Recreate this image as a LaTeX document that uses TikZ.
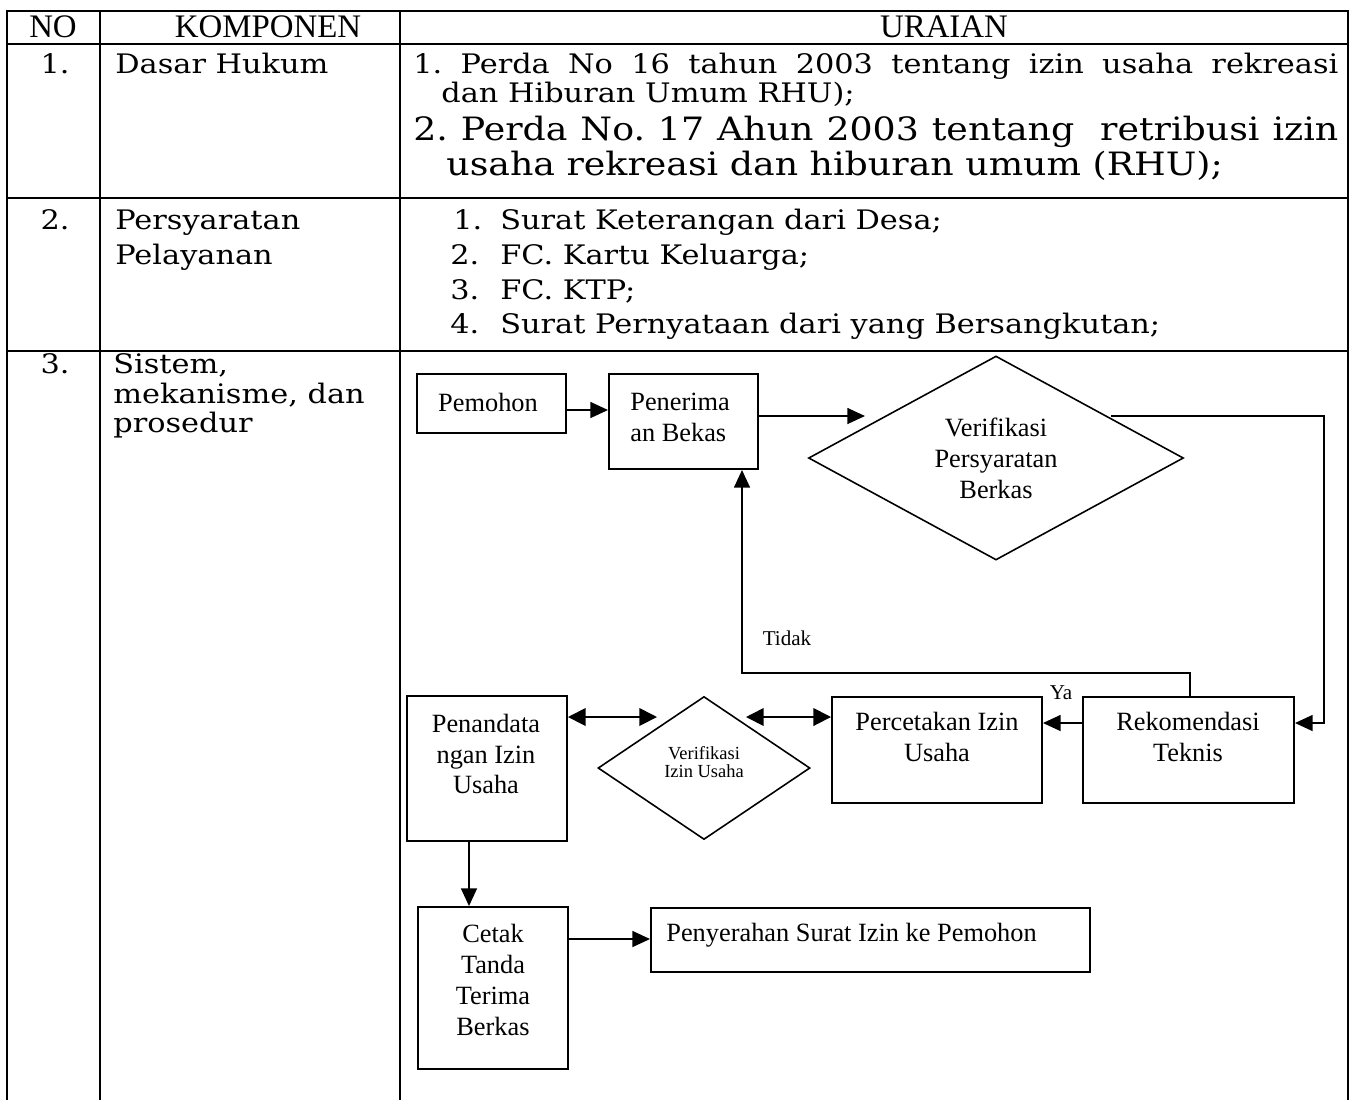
\documentclass[tikz,border=0pt]{standalone}
\usepackage{fontspec}
\setmainfont{DejaVu Serif}[FakeStretch=1.13]
\newfontfamily\tnr{Liberation Serif}
\usetikzlibrary{shapes.geometric,arrows.meta}
\newlength\unitpx
\setlength\unitpx{0.02cm}
\frenchspacing

\begin{document}
\begin{tikzpicture}[x=0.02cm,y=-0.02cm]

\tikzset{head/.style = {font=\tnr\fontsize{18.7}{22}\selectfont, inner sep=0, anchor=base}}
\tikzset{cell/.style = {font=\fontsize{15.3}{19}\selectfont, inner sep=0, anchor=base west}}
\tikzset{bigcell/.style = {font=\fontsize{18.3}{22}\selectfont, inner sep=0, anchor=base west}}
\tikzset{tline/.style = {line width=1.1pt}}
\tikzset{box/.style = {draw, line width=1.1pt, inner sep=0}}
\tikzset{decision/.style = {draw, diamond, line width=0.9pt, inner sep=0}}
\tikzset{flowtext/.style = {font=\tnr\fontsize{15}{17.6}\selectfont, align=center, inner sep=0}}
\tikzset{small/.style = {font=\tnr\fontsize{12}{14}\selectfont, inner sep=0}}
\tikzset{edge/.style = {-{Triangle[length=10pt,width=9pt]}, line width=1pt}}
\tikzset{twoway/.style = {{Triangle[length=10pt,width=10pt]}-{Triangle[length=10pt,width=10pt]}, line width=1pt}}
%\draw[help lines] (0,0) grid (1358,1100);
\useasboundingbox (0,0) rectangle (1358,1100);

% table
\draw[tline] (7,1100) -- (7,11) -- (1348,11) -- (1348,1100);
\draw[tline] (100,11) -- (100,1100);
\draw[tline] (400,11) -- (400,1100);
\draw[tline] (7,44) -- (1348,44);
\draw[tline] (7,198) -- (1348,198);
\draw[tline] (7,351) -- (1348,351);

\node[head] (no) at (53,37) {NO};
\node[head] (komp) at (268,37) {KOMPONEN};
\node[head] (urai) at (944,37) {URAIAN};

\node[cell, anchor=base] (n1) at (55,73) {1.};
\node[cell] (dasar) at (115,73) {Dasar Hukum};
\node[cell] (hk1) at (413,73) {\makebox[925\unitpx][s]{1. Perda No 16 tahun 2003 tentang izin usaha rekreasi}};
\node[cell] (hk1b) at (441,102) {dan Hiburan Umum RHU);};
\node[bigcell] (hk2) at (413,140) {\makebox[925\unitpx][s]{2. Perda No. 17 Ahun 2003 tentang\ \ retribusi izin}};
\node[bigcell] (hk2b) at (446,175) {usaha rekreasi dan hiburan umum (RHU);};

\node[cell, anchor=base] (n2) at (55,229) {2.};
\node[cell] (syarat) at (115,229) {Persyaratan};
\node[cell] (layan) at (115,264) {Pelayanan};
\node[cell] (s1n) at (453,229) {1.};
\node[cell] (s1) at (500,229) {Surat Keterangan dari Desa;};
\node[cell] (s2n) at (450,264) {2.};
\node[cell] (s2) at (500,264) {FC. Kartu Keluarga;};
\node[cell] (s3n) at (450,299) {3.};
\node[cell] (s3) at (500,299) {FC. KTP;};
\node[cell] (s4n) at (450,333) {4.};
\node[cell] (s4) at (500,333) {Surat Pernyataan dari yang Bersangkutan;};

\node[cell, anchor=base] (n3) at (55,373) {3.};
\node[cell] (sis1) at (113,373) {Sistem,};
\node[cell] (sis2) at (113,403) {mekanisme, dan};
\node[cell] (sis3) at (113,432) {prosedur};

% flowchart
\node[box, minimum width=149\unitpx, minimum height=59\unitpx] (pemohon) at (491.5,403.5) {};
\node[box, minimum width=149\unitpx, minimum height=95\unitpx] (penerima) at (683.5,421.5) {};
\node[decision, minimum width=375\unitpx, minimum height=204\unitpx] (verif) at (996,458) {};
\node[box, minimum width=211\unitpx, minimum height=106\unitpx] (rekom) at (1188.5,750) {};
\node[box, minimum width=210\unitpx, minimum height=106\unitpx] (cetakizin) at (937,750) {};
\node[decision, minimum width=212\unitpx, minimum height=143\unitpx] (verifizin) at (704,768) {};
\node[box, minimum width=160\unitpx, minimum height=145\unitpx] (tanda) at (487,768.5) {};
\node[box, minimum width=150\unitpx, minimum height=162\unitpx] (cetak) at (493,988) {};
\node[box, minimum width=439\unitpx, minimum height=64\unitpx] (serah) at (870.5,940) {};

\node[flowtext] (pemohonT) at (488,402) {Pemohon};
\node[flowtext, align=left, anchor=west] (penerimaT) at (630,417) {Penerima\\an Bekas};
\node[flowtext] (verifT) at (996,458) {Verifikasi\\Persyaratan\\Berkas};
\node[flowtext] (rekomT) at (1188,737) {Rekomendasi\\Teknis};
\node[flowtext] (cetakizinT) at (937,737) {Percetakan Izin\\Usaha};
\node[flowtext, font=\tnr\fontsize{10.5}{10.2}\selectfont] (verifizinT) at (704,762) {Verifikasi\\Izin Usaha};
\node[flowtext] (tandaT) at (486,754) {Penandata\\ngan Izin\\Usaha};
\node[flowtext] (cetakT) at (493,980) {Cetak\\Tanda\\Terima\\Berkas};
\node[flowtext, anchor=west] (serahT) at (666,935) {Penyerahan Surat Izin ke Pemohon};

\node[small] (tidak) at (787,638) {Tidak};
\node[small] (ya) at (1061,693) {Ya};

\coordinate (verifIn) at (865,416);
\coordinate (verifOut) at (1111,416);
\coordinate (izinL) at (657,717);
\coordinate (izinR) at (746,717);

\draw[edge] ([yshift=-6.5\unitpx]pemohon.east) -- ([yshift=11.5\unitpx]penerima.west);
\draw[edge] ([yshift=5.5\unitpx]penerima.east) -- (verifIn);
\draw[edge] (verifOut) -- (1324,416) |- ([yshift=27\unitpx]rekom.east);
\draw[edge] ([yshift=27\unitpx]rekom.west) -- ([yshift=27\unitpx]cetakizin.east);
\draw[edge] ([xshift=1.5\unitpx]rekom.north) -- ++(0,-23) -| ([xshift=58.5\unitpx]penerima.south);
\draw[twoway] ([yshift=51.5\unitpx]tanda.east) -- (izinL);
\draw[twoway] (izinR) -- ([yshift=33\unitpx]cetakizin.west);
\draw[edge] ([xshift=-18\unitpx]tanda.south) -- ([xshift=-24\unitpx]cetak.north);
\draw[edge] ([yshift=49\unitpx]cetak.east) -- ([yshift=1\unitpx]serah.west);
\end{tikzpicture}
\end{document}
